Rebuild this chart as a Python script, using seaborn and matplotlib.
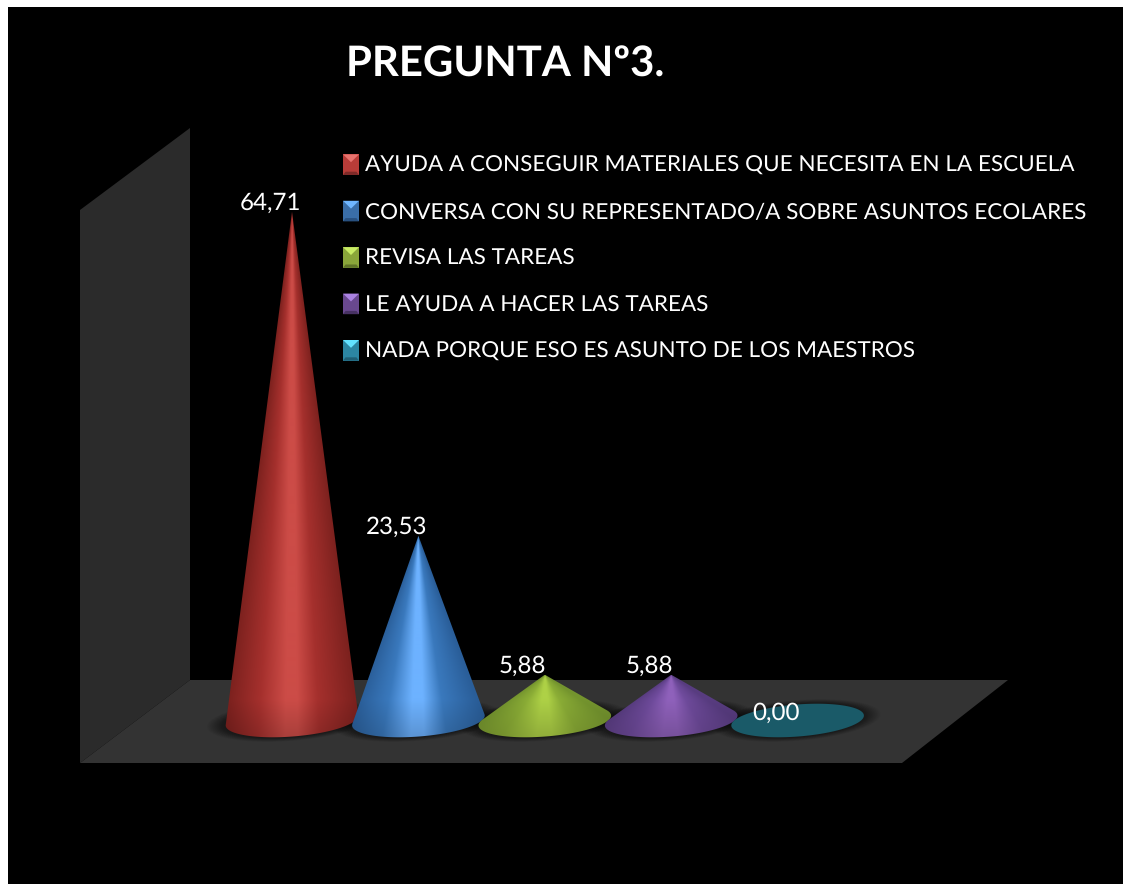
import numpy as np
import pandas as pd
import matplotlib
matplotlib.use("Agg")
import matplotlib.pyplot as plt
import seaborn as sns
from matplotlib.colors import to_rgb
from matplotlib.legend_handler import HandlerBase
from matplotlib.patches import Patch, PathPatch, Polygon
from matplotlib.path import Path
from matplotlib.transforms import Affine2D

# ---------- data ----------
title = "PREGUNTA Nº3."
categories = [
    "AYUDA A CONSEGUIR MATERIALES QUE NECESITA EN LA ESCUELA",
    "CONVERSA CON SU REPRESENTADO/A SOBRE ASUNTOS ECOLARES",
    "REVISA LAS TAREAS",
    "LE AYUDA A HACER LAS TAREAS",
    "NADA PORQUE ESO ES ASUNTO DE LOS MAESTROS",
]
values = [64.71, 23.53, 5.88, 5.88, 0.00]
value_labels = ["64,71", "23,53", "5,88", "5,88", "0,00"]

# ---------- colours ----------
dark_cols = ["#7c211e", "#2a5e99", "#74942e", "#583c80", "#1a5a68"]
mid_cols = ["#a5302d", "#3a79bd", "#8bad36", "#6f4b9c", "#1a5a68"]
high_cols = ["#cc4c47", "#6db2ff", "#aed146", "#8f61bb", "#1a5a68"]
swatch_base = ["#b83c38", "#3a6ea8", "#8aa63a", "#69488f", "#2c86a2"]
swatch_top = ["#e8736e", "#6fb6ff", "#c8ec64", "#ab82e2", "#62e2ff"]
swatch_low = ["#7f2a28", "#28507f", "#5f7428", "#483264", "#1f5f74"]

# ---------- layout (pixels of the 1123x884 picture) ----------
W, H = 1123, 884
BLACK_L, BLACK_T = 8, 7
X0_PX, STEP_PX = 292.0, 126.4        # first category centre, category spacing
Y0_PX, UNIT_PX = 721.0, 7.87         # value 0, pixels per value unit
ELL_A, ELL_B, ELL_TILT = 66.5, 16.0, np.deg2rad(4.5)
ELL_DY = -0.5

sns.set_theme(style="dark")
plt.rcParams["font.family"] = ["Lato", "DejaVu Sans"]
plt.rcParams["text.hinting"] = "no_hinting"

fig = plt.figure(figsize=(W / 100, H / 100), dpi=100, facecolor="white")
ax = fig.add_axes([BLACK_L / W, 0, (W - BLACK_L) / W, (H - BLACK_T) / H])

df = pd.DataFrame({"categoria": categories, "valor": values})
sns.barplot(data=df, x="categoria", y="valor", hue="categoria",
            palette=mid_cols, legend=False, ax=ax, width=1.04, saturation=1)

# bar geometry from the library drives the cones
bars = [c[0] for c in ax.containers]
geom = [(b.get_x() + b.get_width() / 2, b.get_height()) for b in bars]
for b in bars:
    b.set_visible(False)

ax.set_facecolor("black")
ax.set_xlim((BLACK_L - X0_PX) / STEP_PX, (W - X0_PX) / STEP_PX)
ax.set_ylim((Y0_PX - H) / UNIT_PX, (Y0_PX - BLACK_T) / UNIT_PX)
ax.set_xlabel("")
ax.set_ylabel("")
ax.set_xticks([])
ax.set_yticks([])
ax.grid(False)
for s in ax.spines.values():
    s.set_visible(False)

px = Affine2D().scale(1 / W, -1 / H).translate(0, 1) + fig.transFigure

# 3-D frame: back wall and floor
ax.add_patch(Polygon([(80, 763), (80, 210), (190, 128), (190, 680)], closed=True,
                     fc="#2b2b2b", ec="none", transform=px, zorder=1))
ax.add_patch(Polygon([(190, 680), (1008, 680), (902, 763), (80, 763)], closed=True,
                     fc="#333333", ec="none", transform=px, zorder=1.1))


def ellipse_offsets(scale=1.0, n=360):
    t = np.linspace(0, 2 * np.pi, n, endpoint=False)
    ex, ey = ELL_A * scale * np.cos(t), ELL_B * scale * np.sin(t)
    # screen offsets in pixels, y down; right side tilted upwards
    return (ex * np.cos(ELL_TILT) + ey * np.sin(ELL_TILT),
            -ex * np.sin(ELL_TILT) + ey * np.cos(ELL_TILT) + ELL_DY)


def to_data(cx, ox, oy):
    return np.column_stack([cx + ox / STEP_PX, -oy / UNIT_PX])


for i, (cx, v) in enumerate(geom):
    # soft shadow on the floor
    for k in range(14):
        ox, oy = ellipse_offsets(1.0 + 0.019 * (k + 1))
        ax.add_patch(Polygon(to_data(cx, ox - 1, oy), closed=True, fc="black",
                             ec="none", alpha=0.035, zorder=2))

for i, (cx, v) in enumerate(geom):
    ox, oy = ellipse_offsets()
    apex_oy = -v * UNIT_PX
    if v <= 1e-6:
        ax.add_patch(Polygon(to_data(cx, ox, oy), closed=True,
                             fc=high_cols[i], ec="none", zorder=3))
        continue
    # silhouette: apex + lower ellipse arc between the two tangents
    ang = np.arctan2(ox, oy - apex_oy)
    i_r, i_l = int(np.argmax(ang)), int(np.argmin(ang))
    idx = np.arange(i_r, i_l + 1 if i_l >= i_r else i_l + 361) % 360
    outline = np.vstack([[cx, v], to_data(cx, ox[idx], oy[idx])])
    clip = PathPatch(Path(np.vstack([outline, outline[0]]), closed=True),
                     fc="none", ec="none", transform=ax.transData, zorder=3)
    ax.add_patch(clip)

    # conic shading
    top, bottom = apex_oy, 20.0
    gy = np.arange(top, bottom, 0.5)
    gx = np.arange(-72.0, 72.0, 0.5)
    xx, yy = np.meshgrid(gx, gy)
    width = ELL_A * np.clip((yy - apex_oy) / (-apex_oy), 1e-3, None)
    u = np.clip(xx / width, -1, 1)
    stops_u = [-1.0, -0.5, -0.1, 0.08, 0.4, 1.0]
    stops_c = [to_rgb(dark_cols[i]), to_rgb(mid_cols[i]), to_rgb(high_cols[i]),
               to_rgb(high_cols[i]), to_rgb(mid_cols[i]), to_rgb(dark_cols[i])]
    rgb = np.dstack([np.interp(u, stops_u, [c[j] for c in stops_c]) for j in range(3)])
    fall = 1 - 0.16 * np.clip((yy + 22) / 36, 0, 1)
    rgb = np.clip(rgb * fall[..., None], 0, 1)
    im = ax.imshow(rgb, origin="upper", aspect="auto", interpolation="bilinear",
                   extent=(cx + gx[0] / STEP_PX, cx + gx[-1] / STEP_PX,
                           -gy[-1] / UNIT_PX, -gy[0] / UNIT_PX), zorder=3)
    im.set_clip_path(clip)

ax.set_xlim((BLACK_L - X0_PX) / STEP_PX, (W - X0_PX) / STEP_PX)
ax.set_ylim((Y0_PX - H) / UNIT_PX, (Y0_PX - BLACK_T) / UNIT_PX)

# value labels, up and to the left of each apex
for (cx, v), lab in zip(geom, value_labels):
    ax.annotate(lab, xy=(cx, v), xytext=(-22, 8.5), textcoords="offset pixels",
                ha="center", va="center", color="white", fontsize=17.4, zorder=5)


# bevelled legend swatches
class BevelHandler(HandlerBase):
    def create_artists(self, legend, orig, xd, yd, w, h, fs, trans):
        i = int(orig.get_gid())
        x0, y0 = -xd, -yd - 2.0
        hh = h + 3.5
        arts = [
            Polygon([(x0, y0), (x0 + w, y0), (x0 + w, y0 + hh), (x0, y0 + hh)],
                    closed=True, fc=swatch_base[i], ec="none", transform=trans),
            Polygon([(x0, y0), (x0 + w, y0), (x0 + w * 0.84, y0 + hh * 0.16),
                     (x0 + w * 0.16, y0 + hh * 0.16)],
                    closed=True, fc=swatch_low[i], ec="none", transform=trans),
            Polygon([(x0, y0 + hh), (x0 + w, y0 + hh), (x0 + w / 2, y0 + hh * 0.62)],
                    closed=True, fc=swatch_top[i], ec="none", transform=trans),
        ]
        return arts


handles = [Patch(gid=str(i), label=c) for i, c in enumerate(categories)]
leg = ax.legend(handles=handles, handler_map={Patch: BevelHandler()},
                loc="upper left", bbox_to_anchor=(343, 156), bbox_transform=px,
                frameon=False, fontsize=16.2, labelcolor="white",
                borderpad=0, borderaxespad=0, handlelength=0.71,
                handleheight=0.7, handletextpad=0.28, labelspacing=1.175)
leg.set_zorder(6)

fig.text(346 / W, 1 - 65 / H, title, color="white", fontsize=30.15, fontweight="bold",
         ha="left", va="center")

fig.savefig("out.png", dpi=100, facecolor="white")
